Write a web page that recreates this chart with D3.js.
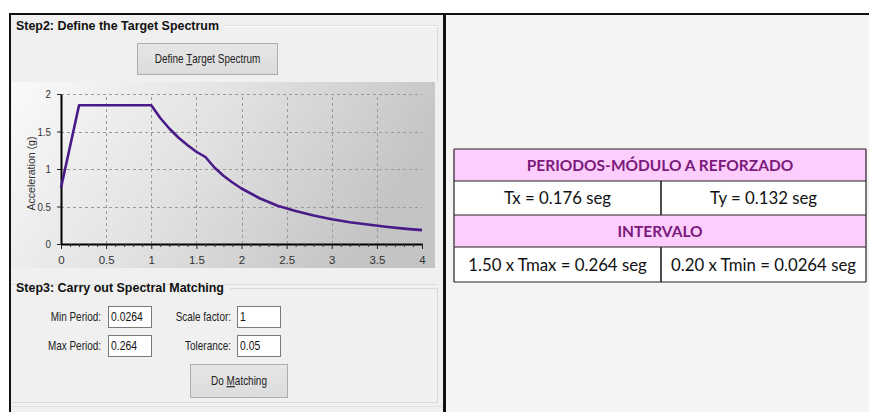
<!DOCTYPE html>
<html>
<head>
<meta charset="utf-8">
<script src="https://cdn.jsdelivr.net/npm/d3@7"></script>
<style>
  html, body { margin: 0; padding: 0; background: #ffffff; }
  svg { display: block; }
  .ui { font-family: 'Liberation Sans', Arial, sans-serif; }
  .bold { font-family: 'Liberation Sans', Arial, sans-serif; font-weight: bold; }
  .tbl { font-family: Lato, 'Open Sans', sans-serif; }
</style>
</head>
<body>
<div id="chart"></div>
<script>
// ---- data ----
const periods = [0, 0.2, 1.0, 1.1, 1.2, 1.3, 1.4, 1.5, 1.6, 1.7, 1.8, 1.9, 2.0, 2.2, 2.4, 2.6, 2.8, 3.0, 3.2, 3.4, 3.6, 3.8, 4.0];
const accel   = [0.75, 1.85, 1.85, 1.68, 1.54, 1.42, 1.32, 1.23, 1.16, 1.02, 0.91, 0.82, 0.74, 0.61, 0.51, 0.44, 0.38, 0.33, 0.29, 0.26, 0.23, 0.205, 0.185];
const xTicks = [0, 0.5, 1, 1.5, 2, 2.5, 3, 3.5, 4];
const xTickLabels = ["0", "0.5", "1", "1.5", "2", "2.5", "3", "3.5", "4"];
const xMinorTicks = [0.1,0.2,0.3,0.4,0.6,0.7,0.8,0.9,1.1,1.2,1.3,1.4,1.6,1.7,1.8,1.9,2.1,2.2,2.3,2.4,2.6,2.7,2.8,2.9,3.1,3.2,3.3,3.4,3.6,3.7,3.8,3.9];
const yTicks = [0, 0.5, 1, 1.5, 2];
const yTickLabels = ["0", "0.5", "1", "1.5", "2"];
const xGrid = [0.5, 1, 1.5, 2, 2.5, 3, 3.5];
const yGrid = [0.5, 1, 1.5, 2];
const yTitle = "Acceleration (g)";
const step2Title = "Step2: Define the Target Spectrum";
const step3Title = "Step3: Carry out Spectral Matching";
const fieldLabels = ["Min Period:", "Max Period:", "Scale factor:", "Tolerance:"];
const fieldValues = ["0.0264", "0.264", "1", "0.05"];
const tableHeader1 = "PERIODOS-MÓDULO A REFORZADO";
const tableRow1 = ["Tx = 0.176 seg", "Ty = 0.132 seg"];
const tableHeader2 = "INTERVALO";
const tableRow2 = ["1.50 x Tmax = 0.264 seg", "0.20 x Tmin = 0.0264 seg"];

// ---- drawing ----
const W = 869, H = 412;
const NARROW = 0.83;
const svg = d3.select("#chart").append("svg").attr("width", W).attr("height", H);
const defs = svg.append("defs");
const grad = defs.append("linearGradient").attr("id", "bg").attr("x1", "0").attr("x2", "1").attr("y1", "0").attr("y2", "0.3");
grad.append("stop").attr("offset", "0").attr("stop-color", "#fafafa");
grad.append("stop").attr("offset", "0.5").attr("stop-color", "#e2e2e2");
grad.append("stop").attr("offset", "1").attr("stop-color", "#c4c4c4");
const bgrad = defs.append("linearGradient").attr("id", "btn").attr("x1", "0").attr("x2", "0").attr("y1", "0").attr("y2", "1");
bgrad.append("stop").attr("offset", "0").attr("stop-color", "#e6e6e6");
bgrad.append("stop").attr("offset", "1").attr("stop-color", "#dcdcdc");

svg.append("rect").attr("width", W).attr("height", H).attr("fill", "#ffffff");
// panels
svg.append("rect").attr("x", 10).attr("y", 14).attr("width", 434).attr("height", H - 14).attr("fill", "#f0f0f0");
svg.append("rect").attr("x", 446).attr("y", 15).attr("width", W - 446).attr("height", H - 15).attr("fill", "#f4f4f4");

// group box subtle lines
const gl = svg.append("g").attr("fill", "none");
gl.append("line").attr("x1", 224).attr("x2", 437).attr("y1", 25.5).attr("y2", 25.5).attr("stroke", "#dadada");
gl.append("line").attr("x1", 224).attr("x2", 437).attr("y1", 26.5).attr("y2", 26.5).attr("stroke", "#ffffff");
gl.append("line").attr("x1", 437.5).attr("x2", 437.5).attr("y1", 26).attr("y2", 82).attr("stroke", "#dadada");
gl.append("line").attr("x1", 12).attr("x2", 437).attr("y1", 284.5).attr("y2", 284.5).attr("stroke", "#dedede");
gl.append("line").attr("x1", 230).attr("x2", 437).attr("y1", 288.5).attr("y2", 288.5).attr("stroke", "#dadada");
gl.append("line").attr("x1", 437.5).attr("x2", 437.5).attr("y1", 288).attr("y2", 403).attr("stroke", "#dadada");
gl.append("line").attr("x1", 12).attr("x2", 437).attr("y1", 402.5).attr("y2", 402.5).attr("stroke", "#d6d6d6");
gl.append("line").attr("x1", 12).attr("x2", 443).attr("y1", 406.5).attr("y2", 406.5).attr("stroke", "#e2e2e2");

// frame lines
svg.append("line").attr("x1", 9).attr("x2", W).attr("y1", 14).attr("y2", 14).attr("stroke", "#111").attr("stroke-width", 2);
svg.append("line").attr("x1", 10).attr("x2", 10).attr("y1", 13).attr("y2", H).attr("stroke", "#111").attr("stroke-width", 2);
svg.append("line").attr("x1", 444.5).attr("x2", 444.5).attr("y1", 13).attr("y2", H).attr("stroke", "#111").attr("stroke-width", 3);

// narrow UI text helper (Arial-Narrow look via horizontal scale)
function narrowText(parent, x, y, anchor, size, fill) {
  return parent.append("text").attr("class", "ui")
    .attr("transform", `translate(${x},${y}) scale(${NARROW},1)`)
    .attr("text-anchor", anchor).attr("font-size", size).attr("fill", fill);
}

// Step2 title & button
svg.append("text").attr("class", "bold").attr("x", 16).attr("y", 30).attr("font-size", 12).attr("fill", "#111")
  .attr("textLength", 203).attr("lengthAdjust", "spacingAndGlyphs").text(step2Title);

function button(x, y, w, h, label, ulIndex) {
  const g = svg.append("g");
  g.append("rect").attr("x", x + 0.5).attr("y", y + 0.5).attr("width", w).attr("height", h)
    .attr("fill", "url(#btn)").attr("stroke", "#adadad");
  const t = narrowText(g, x + w / 2 + 0.5, y + h / 2 + 4.5, "middle", 12, "#222");
  t.append("tspan").text(label.slice(0, ulIndex));
  t.append("tspan").attr("text-decoration", "underline").text(label[ulIndex]);
  t.append("tspan").text(label.slice(ulIndex + 1));
  return g;
}
button(137, 43, 140, 31, "Define Target Spectrum", 7);

// chart panel
svg.append("rect").attr("x", 12).attr("y", 82).attr("width", 423).attr("height", 186).attr("fill", "url(#bg)");

const x = d3.scaleLinear().domain([0, 4]).range([61, 422]);
const y = d3.scaleLinear().domain([0, 2]).range([244, 94]);

// grid
const grid = svg.append("g").attr("stroke", "#9a9a9a").attr("stroke-dasharray", "3,3").attr("stroke-width", 1);
grid.selectAll(".vg").data(xGrid).join("line")
  .attr("x1", d => Math.round(x(d)) + 0.5).attr("x2", d => Math.round(x(d)) + 0.5)
  .attr("y1", y(0)).attr("y2", y(2));
grid.selectAll(".hg").data(yGrid).join("line")
  .attr("y1", d => Math.round(y(d)) + 0.5).attr("y2", d => Math.round(y(d)) + 0.5)
  .attr("x1", x(0)).attr("x2", x(4));

// axes
const xAxis = svg.append("g").attr("transform", `translate(0,${y(0)})`)
  .call(d3.axisBottom(x).tickValues(xTicks).tickFormat((d, i) => xTickLabels[i]).tickSize(5).tickSizeOuter(0).tickPadding(7));
const xMinor = svg.append("g").attr("transform", `translate(0,${y(0)})`)
  .call(d3.axisBottom(x).tickValues(xMinorTicks).tickFormat("").tickSize(3).tickSizeOuter(0));
xMinor.select(".domain").remove();
const yAxis = svg.append("g").attr("transform", `translate(${x(0)},0)`)
  .call(d3.axisLeft(y).tickValues(yTicks).tickFormat((d, i) => yTickLabels[i]).tickSize(4).tickSizeOuter(0).tickPadding(6));

[xAxis, yAxis].forEach(a => {
  a.select(".domain").attr("stroke", "#000").attr("stroke-width", 2);
  a.selectAll(".tick line").attr("stroke", "#222");
  a.selectAll(".tick text").attr("class", "ui").attr("font-size", 11.5).attr("fill", "#333").attr("font-family", null);
});
xMinor.selectAll(".tick line").attr("stroke", "#333");
// y labels slightly condensed like the original
yAxis.selectAll(".tick text").each(function () {
  const t = d3.select(this);
  const xx = +t.attr("x");
  t.attr("x", 0).attr("transform", `translate(${xx},0) scale(0.85,1)`);
});

svg.append("text").attr("class", "ui").attr("font-size", 11).attr("fill", "#333")
  .attr("text-anchor", "middle").attr("transform", "translate(35,173.5) rotate(-90)")
  .attr("textLength", 74).attr("lengthAdjust", "spacingAndGlyphs").text(yTitle);

// spectrum line
const line = d3.line().x((d, i) => x(periods[i])).y(d => y(d));
svg.append("path").datum(accel).attr("d", line).attr("fill", "none")
  .attr("stroke", "#4a1a88").attr("stroke-width", 2.6).attr("stroke-linejoin", "round");

// Step3
svg.append("text").attr("class", "bold").attr("x", 16).attr("y", 292).attr("font-size", 12).attr("fill", "#111")
  .attr("textLength", 208).attr("lengthAdjust", "spacingAndGlyphs").text(step3Title);

const fields = [
  { lx: 101, bx: 108, y: 306 },
  { lx: 101, bx: 108, y: 335 },
  { lx: 231, bx: 237, y: 306 },
  { lx: 231, bx: 237, y: 335 }
];
fields.forEach((f, i) => {
  narrowText(svg, f.lx, f.y + 15, "end", 12, "#222").text(fieldLabels[i]);
  svg.append("rect").attr("x", f.bx + 0.5).attr("y", f.y + 0.5).attr("width", 43).attr("height", 21)
    .attr("fill", "#fff").attr("stroke", "#7a7a7a");
  narrowText(svg, f.bx + 3, f.y + 15, "start", 12.5, "#111").text(fieldValues[i]);
});
button(190, 364, 97, 33, "Do Matching", 3);

// table
const tx0 = 454, tx1 = 866, tmid = 661;
const rowsY = [149, 181, 215, 247, 282];
const tbl = svg.append("g").attr("class", "tbl");
const rows = [
  { type: "head", text: tableHeader1 },
  { type: "cells", text: tableRow1 },
  { type: "head", text: tableHeader2 },
  { type: "cells", text: tableRow2 }
];
rows.forEach((r, i) => {
  const y0 = rowsY[i], y1 = rowsY[i + 1];
  tbl.append("rect").attr("x", tx0).attr("y", y0).attr("width", tx1 - tx0).attr("height", y1 - y0)
    .attr("fill", r.type === "head" ? "#fdcdfd" : "#ffffff");
  if (r.type === "head") {
    tbl.append("text").attr("x", (tx0 + tx1) / 2).attr("y", (y0 + y1) / 2 + 5.5).attr("text-anchor", "middle")
      .attr("font-size", 15.5).attr("font-weight", "bold").attr("fill", "#7a1a7a").text(r.text);
  } else {
    const cy = (y0 + y1) / 2 + 6;
    tbl.append("text").attr("x", (tx0 + tmid) / 2).attr("y", cy).attr("text-anchor", "middle")
      .attr("font-size", 16.8).attr("fill", "#111").text(r.text[0]);
    tbl.append("text").attr("x", (tmid + tx1) / 2).attr("y", cy).attr("text-anchor", "middle")
      .attr("font-size", 16.8).attr("fill", "#111").text(r.text[1]);
    tbl.append("line").attr("x1", tmid).attr("x2", tmid).attr("y1", y0).attr("y2", y1)
      .attr("stroke", "#111").attr("stroke-width", 1.5);
  }
});
rowsY.forEach(yy => {
  tbl.append("line").attr("x1", tx0).attr("x2", tx1).attr("y1", yy).attr("y2", yy).attr("stroke", "#222").attr("stroke-width", 1.2);
});
[tx0, tx1].forEach(xx => {
  tbl.append("line").attr("x1", xx).attr("x2", xx).attr("y1", rowsY[0]).attr("y2", rowsY[4]).attr("stroke", "#222").attr("stroke-width", 1.2);
});
</script>
</body>
</html>
